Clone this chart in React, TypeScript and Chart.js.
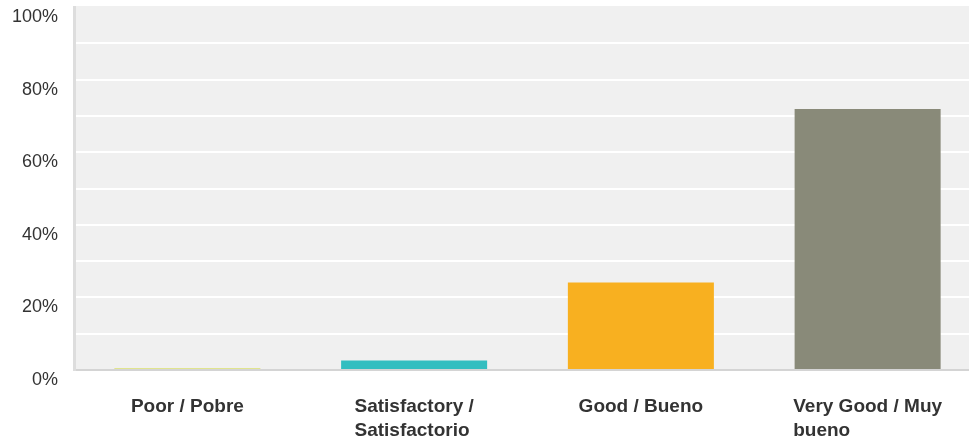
import React, { useEffect, useRef } from "react";
import { Chart, registerables } from "chart.js";

Chart.register(...registerables);

const categories: string[][] = [
  ["Poor / Pobre"],
  ["Satisfactory /", "Satisfactorio"],
  ["Good / Bueno"],
  ["Very Good / Muy", "bueno"],
];
const values: number[] = [0.4, 2.6, 24.1, 71.9];
const barColors: string[] = ["#d0d72c", "#33bec0", "#f8b020", "#898a79"];
const yMax = 100;
const yStep = 10;
const yLabelEvery = 20;

const FONT_FAMILY = '"Liberation Sans", Arial, Helvetica, sans-serif';

const plotBackground = {
  id: "plotBackground",
  beforeDraw(chart: any) {
    const { ctx, chartArea } = chart;
    ctx.save();
    ctx.fillStyle = "#f0f0f0";
    ctx.fillRect(chartArea.left, chartArea.top - 1, chartArea.right - chartArea.left, chartArea.bottom - chartArea.top + 1);
    ctx.restore();
  },
};

const xLabels = {
  id: "xLabels",
  afterDraw(chart: any) {
    const { ctx } = chart;
    const xs = chart.scales.x;
    ctx.save();
    ctx.font = `bold 19px ${FONT_FAMILY}`;
    ctx.fillStyle = "#333333";
    ctx.textAlign = "left";
    ctx.textBaseline = "middle";
    categories.forEach((lines, i) => {
      const cx = xs.getPixelForValue(i);
      const w = Math.max(...lines.map((l) => ctx.measureText(l).width));
      lines.forEach((l, j) => {
        ctx.fillText(l, cx - w / 2, xs.top + 37 + j * 24);
      });
    });
    ctx.restore();
  },
};

export default function App() {
  const ref = useRef<HTMLCanvasElement | null>(null);
  useEffect(() => {
    if (!ref.current) return;
    const chart = new Chart(ref.current, {
      type: "bar",
      data: {
        labels: categories as any,
        datasets: [
          {
            data: values,
            backgroundColor: barColors,
            borderWidth: 0,
            categoryPercentage: 1,
            barPercentage: 0.644,
          },
        ],
      },
      options: {
        animation: false,
        responsive: false,
        devicePixelRatio: 1,
        layout: { padding: { top: 7, right: 9, left: 0, bottom: 0 } },
        plugins: { legend: { display: false }, tooltip: { enabled: false } },
        scales: {
          x: {
            grid: { display: false, z: -1 },
            border: { display: true, color: "#d4d4d4", width: 2 },
            ticks: { display: false },
            afterFit: (s: any) => {
              s.height = 69;
            },
          },
          y: {
            min: 0,
            max: yMax,
            border: { display: true, color: "#dddddd", width: 3 },
            grid: {
              z: -1,
              drawTicks: false,
              lineWidth: 2,
              color: (c: any) => (c.tick && c.tick.value === yMax ? "rgba(0,0,0,0)" : "#ffffff"),
            },
            ticks: {
              stepSize: yStep,
              padding: 16,
              labelOffset: 10,
              color: "#333333",
              font: { family: FONT_FAMILY, size: 18 },
              callback: (v: any) => (Number(v) % yLabelEvery === 0 ? `${v}%` : ""),
            },
            afterFit: (s: any) => {
              s.width = 74;
              s.paddingTop = 0;
              s.paddingBottom = 0;
            },
          },
        },
      },
      plugins: [plotBackground, xLabels],
    });
    return () => chart.destroy();
  }, []);
  return (
    <div style={{ position: "absolute", left: 0, top: 0, width: 969, height: 439, overflow: "hidden", background: "#fff" }}>
      <canvas ref={ref} width={990} height={439} style={{ width: 990, height: 439, display: "block" }} />
    </div>
  );
}
